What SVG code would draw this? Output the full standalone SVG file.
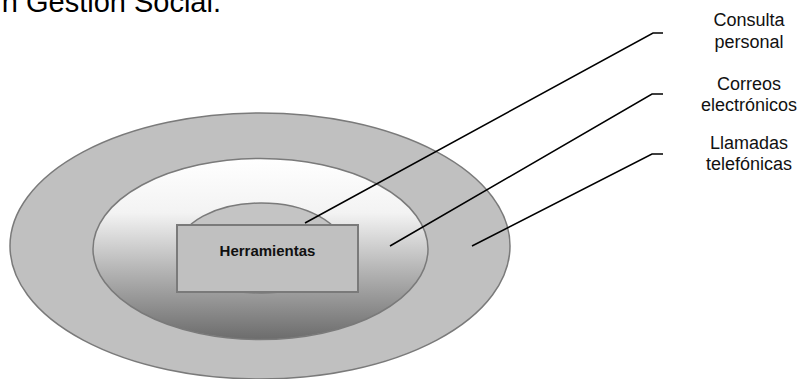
<svg xmlns="http://www.w3.org/2000/svg" width="802" height="379" viewBox="0 0 802 379">
<defs>
<linearGradient id="midGrad" x1="0" y1="0" x2="0" y2="1">
<stop offset="0" stop-color="#ffffff"/>
<stop offset="0.3" stop-color="#f3f3f3"/>
<stop offset="0.6" stop-color="#b8b8b8"/>
<stop offset="1" stop-color="#6c6c6c"/>
</linearGradient>
<style>
.lbl{font-family:"Liberation Sans",Arial,sans-serif;font-size:18px;fill:#111;text-anchor:middle}
.title{font-family:"Liberation Sans",Arial,sans-serif;font-size:29px;fill:#000;text-anchor:end}
.conn{fill:none;stroke:#000;stroke-width:1.5}
.ring{stroke:#7a7a7a;stroke-width:1.5}
</style>
</defs>
<rect width="802" height="379" fill="#ffffff"/>
<text class="title" x="221" y="12">n Gestión Social.</text>
<g id="outer">
<ellipse class="ring" cx="260" cy="246" rx="250" ry="133" fill="#c0c0c0"/>
</g>
<g id="middle">
<ellipse class="ring" cx="260.5" cy="249" rx="167.5" ry="90.5" fill="url(#midGrad)" stroke-width="1"/>
</g>
<g id="inner">
<ellipse class="ring" cx="261" cy="248" rx="82" ry="45" fill="#c4c4c4"/>
</g>
<g id="herramientas">
<rect x="177" y="225" width="181" height="67" fill="#c0c0c0" stroke="#7a7a7a" stroke-width="2"/>
<text x="267.5" y="256" font-family="'Liberation Sans',Arial,sans-serif" font-size="15" font-weight="bold" text-anchor="middle" fill="#111">Herramientas</text>
</g>
<g id="connectors">
<polyline class="conn" points="305,223 653,33 663,33"/>
<polyline class="conn" points="390,246 652,94 663,94"/>
<polyline class="conn" points="472,246 652,154 663,154"/>
</g>
<g id="label-consulta">
<text class="lbl" x="749" y="26">Consulta</text>
<text class="lbl" x="749" y="48">personal</text>
</g>
<g id="label-correos">
<text class="lbl" x="749" y="90">Correos</text>
<text class="lbl" x="749" y="111">electrónicos</text>
</g>
<g id="label-llamadas">
<text class="lbl" x="749" y="149">Llamadas</text>
<text class="lbl" x="749" y="170">telefónicas</text>
</g>
</svg>
